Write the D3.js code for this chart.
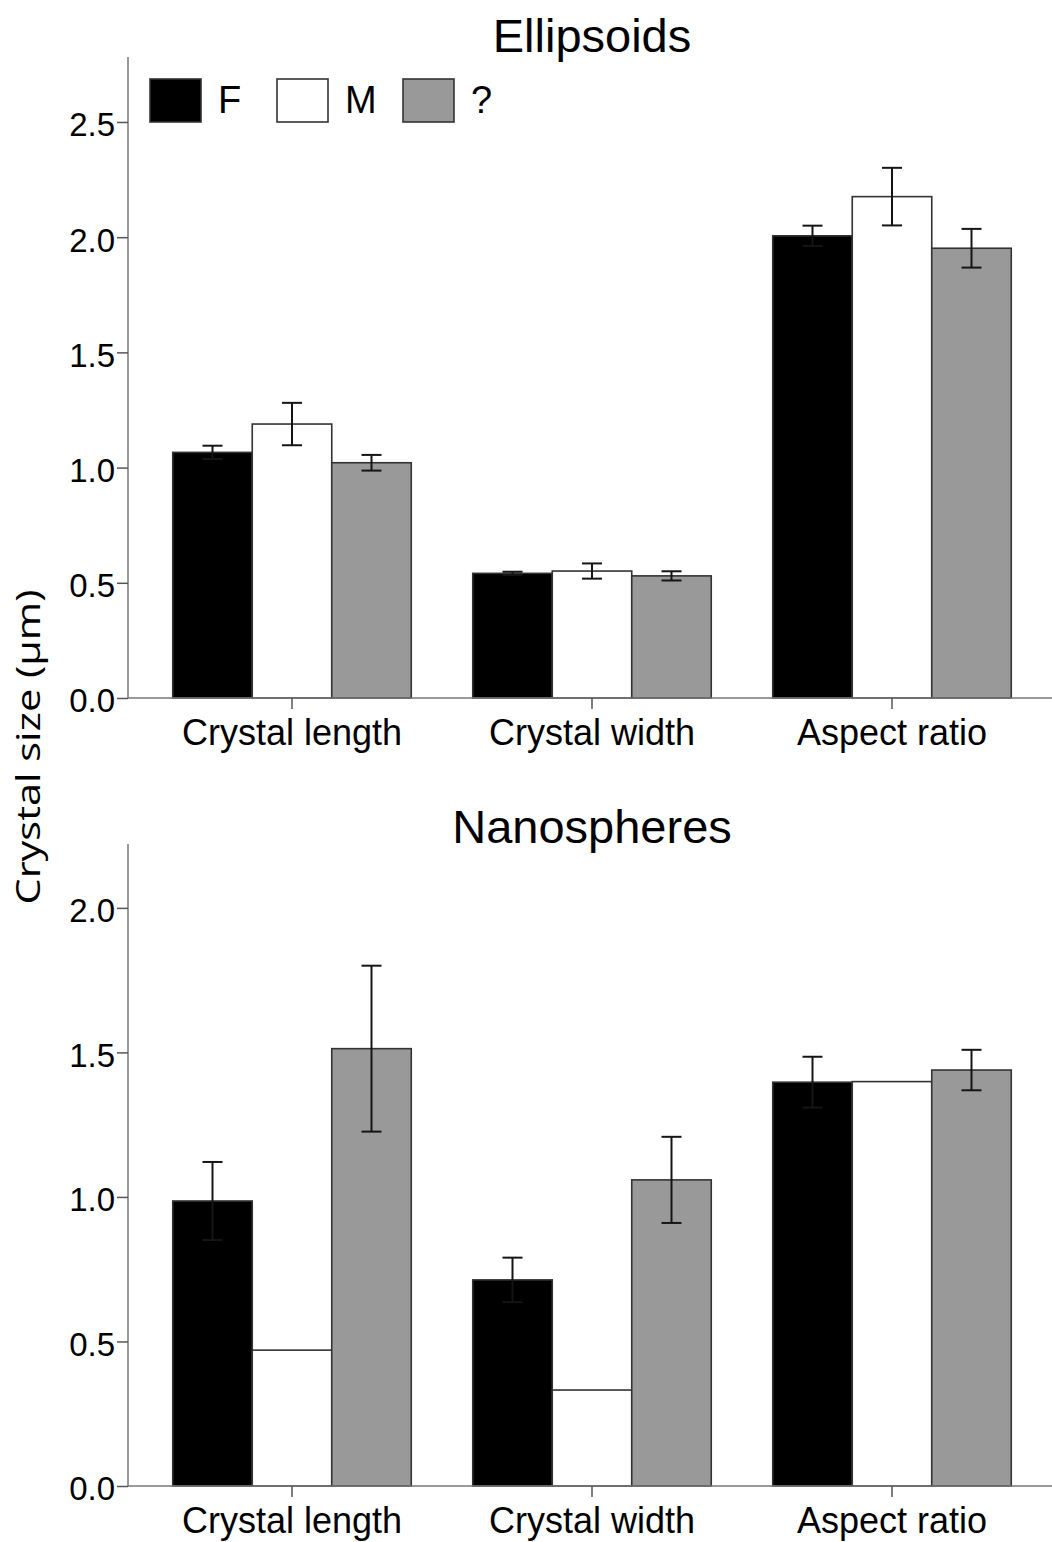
<!DOCTYPE html>
<html>
<head>
<meta charset="utf-8">
<script src="https://cdn.jsdelivr.net/npm/d3@7"></script>
<style>
  html, body { margin: 0; padding: 0; background: #fff; }
  svg { display: block; }
  text { font-family: "Liberation Sans", Arial, sans-serif; fill: #000; }
</style>
</head>
<body>
<svg id="chart" width="1052" height="1542"></svg>
<script>
// Measurement categories and groups
const categories = ["Crystal length", "Crystal width", "Aspect ratio"];
const groups = ["F", "M", "?"];
const groupFill = ["#000000", "#ffffff", "#999999"];

// Ellipsoids: means and error half-widths (µm, aspect ratio unitless)
const ellipsoidF = [1.066, 0.541, 2.006];
const ellipsoidM = [1.189, 0.551, 2.176];
const ellipsoidQ = [1.021, 0.530, 1.952];
const ellipsoidErrF = [0.029, 0.007, 0.044];
const ellipsoidErrM = [0.092, 0.033, 0.125];
const ellipsoidErrQ = [0.034, 0.020, 0.084];

// Nanospheres: means and error half-widths (M has a single specimen, no bar)
const nanoF = [0.986, 0.713, 1.397];
const nanoM = [0.470, 0.332, 1.399];
const nanoQ = [1.513, 1.059, 1.439];
const nanoErrF = [0.135, 0.077, 0.088];
const nanoErrM = [null, null, null];
const nanoErrQ = [0.287, 0.149, 0.070];

const ellipsoidTicks = [0.0, 0.5, 1.0, 1.5, 2.0, 2.5];
const nanoTicks = [0.0, 0.5, 1.0, 1.5, 2.0];

function rows(means, errs) {
  const out = [];
  categories.forEach((c, ci) => {
    groups.forEach((g, gi) => {
      out.push({ cat: c, group: g, gi, value: means[gi][ci], err: errs[gi][ci] });
    });
  });
  return out;
}

const svg = d3.select("#chart");
const axisLeft = 128, axisRight = 1052;
const errColor = "#151515";

const x0 = d3.scaleBand().domain(categories).range([142, 1042])
  .paddingInner(0.205).paddingOuter(0.1025);
const x1 = d3.scaleBand().domain(groups).range([0, x0.bandwidth()]);

function panel(opts) {
  const { title, titleY, yBottom, yTop, yMax, ticks, data } = opts;
  const g = svg.append("g");
  const y = d3.scaleLinear().domain([0, yMax]).range([yBottom, yTop]);

  // title
  g.append("text").attr("x", 592).attr("y", titleY)
    .attr("text-anchor", "middle").style("font-size", "47px").text(title);

  // bars
  g.selectAll("rect.bar").data(data).join("rect")
    .attr("class", "bar")
    .attr("x", d => x0(d.cat) + x1(d.group))
    .attr("width", x1.bandwidth())
    .attr("y", d => y(d.value))
    .attr("height", d => y(0) - y(d.value))
    .attr("fill", d => groupFill[d.gi])
    .attr("stroke", "#333")
    .attr("stroke-width", 1.6);

  // error bars
  const eb = g.selectAll("g.err").data(data.filter(d => d.err != null)).join("g")
    .attr("class", "err")
    .attr("transform", d => `translate(${x0(d.cat) + x1(d.group) + x1.bandwidth() / 2},0)`);
  eb.append("line")
    .attr("y1", d => y(d.value - d.err)).attr("y2", d => y(d.value + d.err))
    .attr("stroke", errColor).attr("stroke-width", 2);
  eb.append("line")
    .attr("x1", -10).attr("x2", 10)
    .attr("y1", d => y(d.value + d.err)).attr("y2", d => y(d.value + d.err))
    .attr("stroke", errColor).attr("stroke-width", 2);
  eb.append("line")
    .attr("x1", -10).attr("x2", 10)
    .attr("y1", d => y(d.value - d.err)).attr("y2", d => y(d.value - d.err))
    .attr("stroke", errColor).attr("stroke-width", 2);

  // y axis
  const ya = g.append("g").attr("transform", `translate(${axisLeft},0)`)
    .call(d3.axisLeft(y).tickValues(ticks).tickFormat(d3.format(".1f")).tickSize(11).tickPadding(2));
  ya.select(".domain").attr("d", `M0,${yTop}V${yBottom}`).attr("stroke", "#777").attr("stroke-width", 1.5);
  ya.selectAll(".tick line").attr("stroke", "#555").attr("stroke-width", 1.5);
  ya.selectAll(".tick text").style("font-size", "33px")
    .style("font-family", '"Liberation Sans", Arial, sans-serif').attr("fill", "#000").attr("dy", "0.42em");

  // x axis
  const xa = g.append("g").attr("transform", `translate(0,${yBottom})`)
    .call(d3.axisBottom(x0).tickSize(11).tickPadding(10));
  xa.select(".domain").attr("d", `M${axisLeft},0H${axisRight}`).attr("stroke", "#777").attr("stroke-width", 1.5);
  xa.selectAll(".tick line").attr("stroke", "#555").attr("stroke-width", 1.5);
  xa.selectAll(".tick text").style("font-size", "36px")
    .style("font-family", '"Liberation Sans", Arial, sans-serif').attr("fill", "#000");
  return g;
}

panel({
  title: "Ellipsoids", titleY: 52, yBottom: 698, yTop: 57, yMax: 2.782,
  ticks: ellipsoidTicks,
  data: rows([ellipsoidF, ellipsoidM, ellipsoidQ], [ellipsoidErrF, ellipsoidErrM, ellipsoidErrQ])
});

panel({
  title: "Nanospheres", titleY: 843, yBottom: 1486, yTop: 844, yMax: 2.221,
  ticks: nanoTicks,
  data: rows([nanoF, nanoM, nanoQ], [nanoErrF, nanoErrM, nanoErrQ])
});

// legend
const legend = svg.append("g");
const legendX = [150, 277, 403];
groups.forEach((gname, i) => {
  legend.append("rect").attr("x", legendX[i]).attr("y", 79).attr("width", 51).attr("height", 43)
    .attr("fill", groupFill[i]).attr("stroke", "#333").attr("stroke-width", 1.6);
  legend.append("text").attr("x", legendX[i] + 68).attr("y", 113)
    .style("font-size", "38px").text(gname);
});

// shared y axis title
svg.append("text")
  .attr("transform", "translate(40,747) rotate(-90)")
  .attr("text-anchor", "middle")
  .attr("textLength", 315)
  .attr("lengthAdjust", "spacingAndGlyphs")
  .style("font-family", '"Open Sans", "Noto Sans", sans-serif')
  .style("font-size", "33px")
  .text("Crystal size (µm)");
</script>
</body>
</html>
